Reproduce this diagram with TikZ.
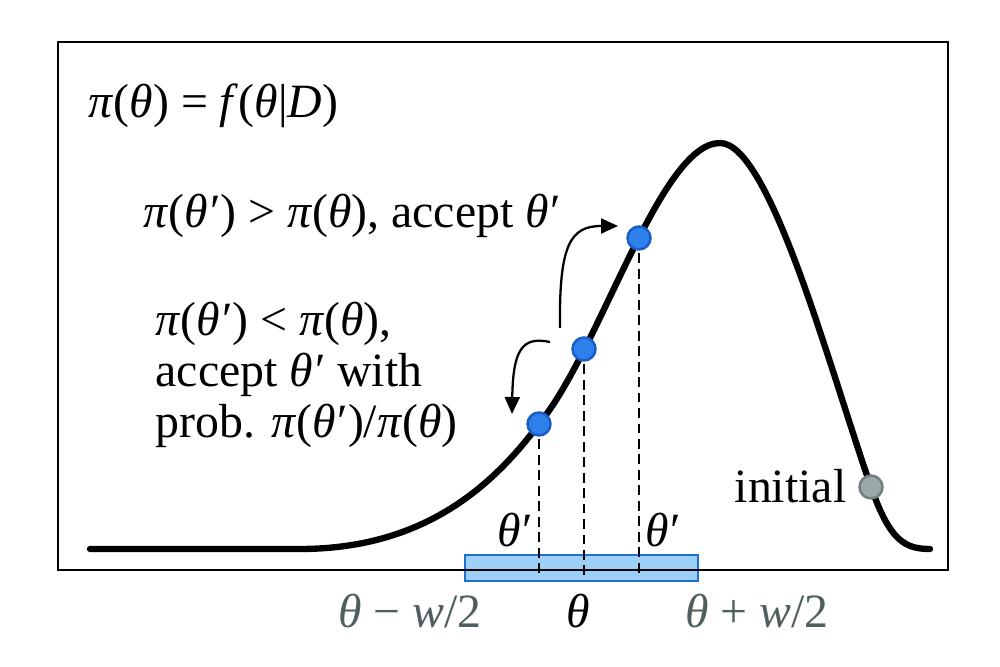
\documentclass[tikz,border=0pt]{standalone}
\usepackage{fontspec}
\setmainfont{Liberation Serif}
\usetikzlibrary{arrows.meta, positioning, calc}
\definecolor{dotfill}{HTML}{2F80EA}
\definecolor{dotline}{HTML}{1A5DC8}
\definecolor{winfill}{HTML}{9DD0F6}
\definecolor{winline}{HTML}{1F6FD0}
\definecolor{initfill}{HTML}{9AA9A7}
\definecolor{initline}{HTML}{6F7F7D}
\definecolor{edgetext}{HTML}{4F5F60}
\newcommand\tht{\textit{θ}}
\newcommand\thp{\textit{θ}\kern0.04em′}
\newcommand\ppi{\textit{π}}
\tikzset{
  density/.style  = {line width=1.8pt, line cap=round, line join=round},
  sample/.style   = {circle, draw=dotline, fill=dotfill, line width=0.7pt,
                     minimum size=2.3mm, inner sep=0pt},
  startpt/.style  = {sample, draw=initline, fill=initfill},
  window/.style   = {draw=winline, fill=winfill, line width=0.8pt,
                     minimum width=23.3mm, minimum height=2.6mm, inner sep=0pt},
  dropline/.style = {dashed, dash pattern=on 2.8pt off 1.6pt, line width=0.55pt},
  jump/.style     = {-{Triangle[length=1.7mm, width=1.5mm]}, line width=0.65pt},
  txt/.style      = {inner sep=0pt},
}
\begin{document}
\begin{tikzpicture}[x=0.1mm, y=-0.1mm, font=\fontsize{13.6}{14.6}\selectfont]
  \useasboundingbox (0,0) rectangle (1000,667);

  % proposal window and frame
  \node[window] (win) at (581.5,568) {};
  \draw[line width=0.6pt] (58,42) rectangle (948,570);

  % samples on the curve
  \coordinate (base) at (0,576);
  \coordinate (sl) at (539,424);
  \coordinate (sc) at (584,349);
  \coordinate (sr) at (639,238);
  \draw[dropline] (sl) -- (sl |- base);
  \draw[dropline] (sc) -- (sc |- base);
  \draw[dropline] (sr) -- (sr |- base);

  \draw[density] (90,549) -- (300,549)
    .. controls (420,549) and (490,490) .. (sl)
    .. controls (600,350) and (660,143) .. (720,143)
    .. controls (770,143) and (830,370) .. (871,487)
    .. controls (890,541) and (905,549) .. (930,549);

  \node[sample] (pleft)  at (sl) {};
  \node[sample] (pcur)   at (sc) {};
  \node[sample] (pright) at (sr) {};
  \node[startpt] (pinit) at (871,487) {};

  % jumps
  \coordinate (upfrom) at (560,328);
  \coordinate (upto)   at (618,226);
  \coordinate (dnfrom) at (550,342);
  \coordinate (dnto)   at (512,414);
  \draw[jump] (upfrom) .. controls (559,245) and (570,226) .. (upto);
  \draw[jump] (dnfrom) .. controls (522,336) and (513,350) .. (dnto);

  % labels
  \node[txt, anchor=base west] (post) at (88,118) {\ppi(\tht) = \textit{f}(\tht|\textit{D})};
  \node[txt, anchor=base west] (up) at (143,228) {\ppi(\thp) > \ppi(\tht), accept \thp};
  \node[txt, anchor=base west, align=left] (down) at (155,438)
    {\ppi(\thp) < \ppi(\tht),\\accept \thp{} with\\prob. \ppi(\thp)/\ppi(\tht)};
  \node[txt, anchor=base east] (init) at (847,503) {initial};
  \node[txt, anchor=base] (tl) at (515,547) {\thp};
  \node[txt, anchor=base] (tr) at (663,547) {\thp};
  \node[txt, anchor=base, text=edgetext] (lo) at (410,628) {\tht{} − \textit{w}/2};
  \node[txt, anchor=base] (mid) at (578,628) {\tht};
  \node[txt, anchor=base, text=edgetext] (hi) at (757,628) {\tht{} + \textit{w}/2};
\end{tikzpicture}
\end{document}
